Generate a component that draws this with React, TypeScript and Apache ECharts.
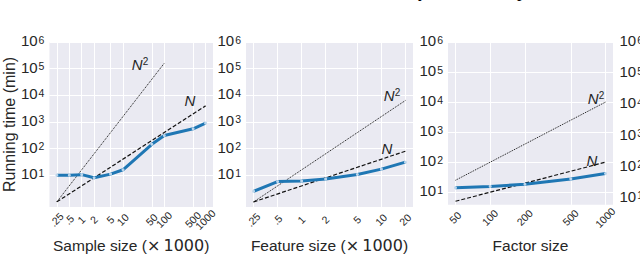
import React, { useEffect, useRef } from "react";
import * as echarts from "echarts";

// ---- data ----
const sampleSizes = [0.25, 0.5, 1, 2, 5, 10, 50, 100, 500, 1000];
const sampleLabels = [".25", ".5", "1", "2", "5", "10", "50", "100", "500", "1000"];
const sampleTime = [10, 10, 10.5, 8, 11, 16, 145, 310, 550, 900];
const sampleN2X = [0.25, 100];
const sampleN2 = [1, 160000];
const sampleNX = [0.25, 1000];
const sampleN = [1, 4000];

const featureSizes = [0.25, 0.5, 1, 2, 5, 10, 20];
const featureLabels = [".25", ".5", "1", "2", "5", "10", "20"];
const featureTime = [2.5, 5.8, 6.1, 7.2, 10.7, 17, 31];
const featureN2X = [0.25, 20];
const featureN2 = [1, 6400];
const featureNX = [0.25, 20];
const featureN = [1, 80];

const factorSizes = [50, 100, 200, 500, 1000];
const factorLabels = ["50", "100", "200", "500", "1000"];
const factorTime = [14, 15.6, 18.5, 27.7, 42];
const factorN2X = [50, 1000];
const factorN2 = [25, 10000];
const factorNX = [50, 1000];
const factorN = [5, 100];

const yTickValues = [10, 100, 1000, 10000, 100000, 1000000];

const xNames = ["Sample size ({m|\u00d7\u20091000})", "Feature size ({m|\u00d7\u20091000})", "Factor size"];
const yName = "Running time (min)";

const FONT = "'Liberation Sans', Arial, sans-serif";
const TXT = "#262626";

export default function App() {
  const ref = useRef<HTMLDivElement>(null);
  useEffect(() => {
    if (!ref.current) return;
    const chart = echarts.init(ref.current, undefined, { renderer: "svg" });

    const panels = [
      { sizes: sampleSizes, labels: sampleLabels, time: sampleTime, n2x: sampleN2X, n2: sampleN2, nx: sampleNX, n: sampleN, left: 45, width: 168, ymin: Math.pow(10, -0.19) },
      { sizes: featureSizes, labels: featureLabels, time: featureTime, n2x: featureN2X, n2: featureN2, nx: featureNX, n: featureN, left: 246, width: 167, ymin: Math.pow(10, -0.19) },
      { sizes: factorSizes, labels: factorLabels, time: factorTime, n2x: factorN2X, n2: factorN2, nx: factorNX, n: factorN, left: 448, width: 165, ymin: Math.pow(10, 0.58) },
    ];

    const grids: any[] = [];
    const xAxes: any[] = [];
    const yAxes: any[] = [];
    const series: any[] = [];

    const yLabel = (i: number) => ({
      type: "log",
      gridIndex: i,
      min: panels[Math.min(i, 2)].ymin,
      max: 1e6,
      axisLine: { show: false },
      axisTick: { show: false },
      splitLine: { show: false },
      axisLabel: {
        customValues: yTickValues,
        showMinLabel: true,
        showMaxLabel: true,
        margin: 5,
        fontSize: 15,
        fontFamily: FONT,
        color: TXT,
        formatter: (v: number) => {
          const e = Math.round(Math.log10(v));
          return `{b|10}{e|${e}}`;
        },
        rich: {
          b: { fontSize: 15, fontFamily: FONT, color: TXT, lineHeight: 16, verticalAlign: "bottom", padding: [5, 0, 2, 0] },
          e: { fontSize: 10.5, fontFamily: FONT, color: TXT, lineHeight: 10, verticalAlign: "top", padding: [0, 0, 0, 1] },
        },
      },
    });

    const xAxisFor = (p: any, i: number, values: number[], withName: boolean) => {
      const lo = Math.log10(p.sizes[0]);
      const hi = Math.log10(p.sizes[p.sizes.length - 1]);
      const m = (hi - lo) * 0.05;
      const ax: any = {
        type: "log",
        gridIndex: i,
        position: "bottom",
        min: Math.pow(10, lo - m),
        max: Math.pow(10, hi + m),
        axisLine: { show: false },
        axisTick: { show: false },
        splitLine: { show: false },
        axisLabel: {
          customValues: values,
          showMinLabel: true,
          showMaxLabel: true,
          formatter: (v: number) => {
            let best = 0;
            p.sizes.forEach((s: number, k: number) => {
              if (Math.abs(Math.log10(s) - Math.log10(v)) < Math.abs(Math.log10(p.sizes[best]) - Math.log10(v))) best = k;
            });
            return p.labels[best];
          },
          rotate: 45,
          align: "center",
          verticalAlign: "middle",
          margin: 13,
          fontSize: 10.5,
          fontFamily: FONT,
          color: TXT,
        },
      };
      if (withName) {
        ax.name = xNames[i];
        ax.nameLocation = "middle";
        ax.nameGap = 30;
        ax.nameTextStyle = {
          fontSize: 15.5,
          fontFamily: FONT,
          color: TXT,
          rich: { m: { fontSize: 16, fontFamily: "'DejaVu Sans', sans-serif", color: TXT } },
        };
      }
      return ax;
    };

    const mainXIdx: number[] = [];
    panels.forEach((p, i) => {
      grids.push({ left: p.left, top: 42, width: p.width, height: 169, show: true, backgroundColor: "#EAEAF2", borderWidth: 0 });
      mainXIdx.push(xAxes.length);
      xAxes.push(xAxisFor(p, i, p.sizes.filter((_, k) => k % 2 === 0), true));
      xAxes.push(xAxisFor(p, i, p.sizes.filter((_, k) => k % 2 === 1), false));
    });

    panels.forEach((p, i) => {
      const xi = mainXIdx[i];
      const ya: any = yLabel(i);
      if (i === 0) {
        ya.name = yName;
        ya.nameLocation = "middle";
        ya.nameGap = 32;
        ya.nameTextStyle = { fontSize: 16, fontFamily: FONT, color: TXT };
      }
      yAxes.push(ya);

      // gridlines
      series.push({
        type: "line",
        xAxisIndex: xi,
        yAxisIndex: i,
        data: p.sizes.map((x, k) => [x, p.time[k]]),
        showSymbol: false,
        lineStyle: { opacity: 0 },
        silent: true,
        z: 1,
        markLine: {
          z: 1,
          silent: true,
          symbol: ["none", "none"],
          label: { show: false },
          lineStyle: { color: "#ffffff", width: 1, type: "solid" },
          emphasis: { disabled: true },
          data: [
            ...p.sizes.map((x) => ({ xAxis: x })),
            ...yTickValues.map((y) => ({ yAxis: y })),
          ],
        },
      });
      // N^2
      series.push({
        type: "line",
        xAxisIndex: xi,
        yAxisIndex: i,
        data: p.n2x.map((x, k) => [x, p.n2[k]]),
        showSymbol: false,
        symbol: "none",
        lineStyle: { color: "#111", width: 1, type: [1, 1] },
        z: 3,
      });
      // N
      series.push({
        type: "line",
        xAxisIndex: xi,
        yAxisIndex: i,
        data: p.nx.map((x, k) => [x, p.n[k]]),
        showSymbol: false,
        symbol: "none",
        lineStyle: { color: "#111", width: 1.2, type: [4, 2] },
        z: 3,
      });
      // measured
      series.push({
        type: "line",
        xAxisIndex: xi,
        yAxisIndex: i,
        data: p.sizes.map((x, k) => [x, p.time[k]]),
        symbol: "circle",
        symbolSize: 3,
        itemStyle: { color: "#bcd6ec", borderWidth: 0 },
        lineStyle: { color: "#1f77b4", width: 3 },
        z: 4,
      });
    });

    // cut-off fourth panel (only its y tick labels are visible)
    grids.push({ left: 648, top: 42, width: 100, height: 169 });
    xAxes.push({ type: "value", gridIndex: 3, min: 0, max: 1, show: false });
    yAxes.push(yLabel(3));

    const nLabel = (x: number, y: number, sq: boolean) => ({
      type: "text",
      x,
      y,
      style: {
        text: sq ? "{i|N}{s|2}" : "{i|N}",
        align: "center",
        verticalAlign: "middle",
        rich: {
          i: { fontSize: 15, fontStyle: "italic", fontFamily: FONT, fill: TXT, lineHeight: 16, verticalAlign: "bottom", padding: [5, 0, 0, 0] },
          s: { fontSize: 10, fontFamily: FONT, fill: TXT, lineHeight: 10, verticalAlign: "top" },
        },
      },
      z: 10,
    });

    chart.setOption({
      animation: false,
      grid: grids,
      xAxis: xAxes,
      yAxis: yAxes,
      series,
      graphic: [
        nLabel(140, 64, true),
        nLabel(190, 100, false),
        nLabel(392, 95, true),
        nLabel(387, 148, false),
        nLabel(596, 98, true),
        nLabel(592, 160, false),
        { type: "text", x: 418, y: 0, style: { text: "y", fontSize: 18, fontFamily: "'Liberation Serif', serif", fill: "#000", verticalAlign: "bottom" } },
        { type: "text", x: 517, y: 0, style: { text: "p", fontSize: 18, fontFamily: "'Liberation Serif', serif", fill: "#000", verticalAlign: "bottom" } },
      ],
    });
    return () => chart.dispose();
  }, []);
  return <div ref={ref} style={{ position: "absolute", left: 0, top: 0, width: 640, height: 258 }} />;
}
